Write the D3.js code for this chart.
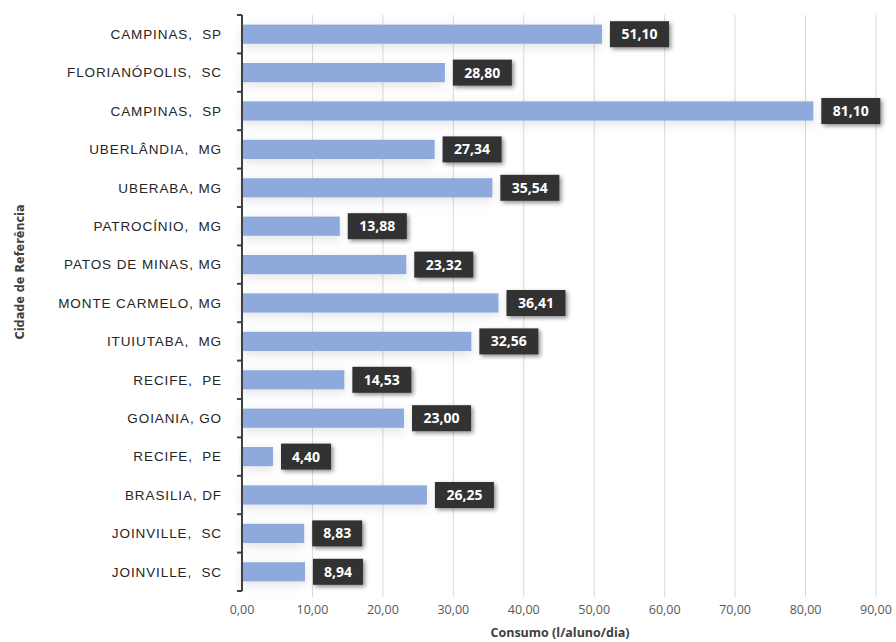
<!DOCTYPE html>
<html lang="en">
<head>
    <meta charset="UTF-8">
    <title>Consumo por Cidade</title>
    <script src="https://d3js.org/d3.v7.min.js"></script>
    <style>
        body { margin: 0; background: #fff; }
        svg { display: block; }
        .cat { font-family: "Liberation Sans", Arial, sans-serif; font-size: 13.5px; letter-spacing: 0.9px; fill: #262626; white-space: pre; }
        .tick-x { font-family: "Open Sans", sans-serif; font-size: 12.5px; fill: #595959; }
        .lbl { font-family: "Open Sans", sans-serif; font-size: 14px; font-weight: bold; fill: #fff; }
    </style>
</head>
<body>
<svg id="chart" width="896" height="642"></svg>
<script>
    // data (top to bottom)
    const cities = [
        "CAMPINAS,  SP", "FLORIANÓPOLIS,  SC", "CAMPINAS,  SP", "UBERLÂNDIA,  MG",
        "UBERABA, MG", "PATROCÍNIO,  MG", "PATOS DE MINAS, MG", "MONTE CARMELO, MG",
        "ITUIUTABA,  MG", "RECIFE,  PE", "GOIANIA, GO", "RECIFE,  PE",
        "BRASILIA, DF", "JOINVILLE,  SC", "JOINVILLE,  SC"
    ];
    const consumo = [51.10, 28.80, 81.10, 27.34, 35.54, 13.88, 23.32, 36.41, 32.56, 14.53, 23.00, 4.40, 26.25, 8.83, 8.94];
    const xTicks = [0, 10, 20, 30, 40, 50, 60, 70, 80, 90];

    const data = cities.map((c, i) => ({ id: i, city: c, value: consumo[i] }));
    const fmt = v => v.toFixed(2).replace(".", ",");
    const boxW = v => fmt(v).length * 9 + 14;

    const svg = d3.select("#chart");
    const plotL = 242, plotR = 876, plotT = 15, plotB = 591;

    const x = d3.scaleLinear().domain([0, 90]).range([plotL, plotR]);
    const y = d3.scaleBand().domain(data.map(d => d.id)).range([plotT, plotB]).paddingInner(0.5).paddingOuter(0.25);

    const defs = svg.append("defs");
    const sh = defs.append("filter").attr("id", "shadow").attr("x", "-20%").attr("y", "-40%").attr("width", "150%").attr("height", "200%");
    sh.append("feDropShadow").attr("dx", 2).attr("dy", 2).attr("stdDeviation", 2).attr("flood-color", "#000").attr("flood-opacity", 0.45);
    const bs = defs.append("filter").attr("id", "barshadow").attr("x", "-10%").attr("y", "-100%").attr("width", "130%").attr("height", "300%");
    bs.append("feDropShadow").attr("dx", 0).attr("dy", 3).attr("stdDeviation", 6).attr("flood-color", "#000").attr("flood-opacity", 0.12);

    // gridlines
    svg.append("g")
        .selectAll("line")
        .data(xTicks.slice(1))
        .join("line")
        .attr("x1", d => x(d)).attr("x2", d => x(d))
        .attr("y1", plotT).attr("y2", plotB + 6)
        .attr("stroke", "#d9d9d9").attr("stroke-width", 1);

    // bars
    svg.append("g")
        .selectAll("rect")
        .data(data)
        .join("rect")
        .attr("x", plotL)
        .attr("y", d => y(d.id))
        .attr("width", d => x(d.value) - plotL)
        .attr("height", y.bandwidth())
        .attr("fill", "#8eaadc")
        .attr("filter", "url(#barshadow)");

    // left axis with ticks between categories
    const step = y.step();
    const axisG = svg.append("g").attr("stroke", "#404040").attr("stroke-width", 2);
    axisG.append("line").attr("x1", plotL).attr("x2", plotL).attr("y1", plotT).attr("y2", plotB);
    axisG.selectAll("line.t")
        .data(d3.range(cities.length + 1))
        .join("line")
        .attr("class", "t")
        .attr("x1", plotL - 5).attr("x2", plotL)
        .attr("y1", i => plotT + i * step).attr("y2", i => plotT + i * step);

    // category labels
    svg.append("g")
        .selectAll("text")
        .data(data)
        .join("text")
        .attr("class", "cat")
        .attr("x", 222)
        .attr("y", d => y(d.id) + y.bandwidth() / 2)
        .attr("dy", "0.35em")
        .attr("text-anchor", "end")
        .text(d => d.city);

    // x tick labels
    svg.append("g")
        .selectAll("text")
        .data(xTicks)
        .join("text")
        .attr("class", "tick-x")
        .attr("x", d => x(d))
        .attr("y", 614)
        .attr("text-anchor", "middle")
        .text(d => fmt(d));

    // value labels
    const lab = svg.append("g")
        .selectAll("g")
        .data(data)
        .join("g")
        .attr("transform", d => `translate(${x(d.value) + 8},${y(d.id) + y.bandwidth() / 2})`);
    lab.append("rect")
        .attr("x", 0).attr("y", -13)
        .attr("width", d => boxW(d.value))
        .attr("height", 26)
        .attr("fill", "#333")
        .attr("filter", "url(#shadow)");
    lab.append("text")
        .attr("class", "lbl")
        .attr("x", d => boxW(d.value) / 2)
        .attr("dy", "0.36em")
        .attr("text-anchor", "middle")
        .text(d => fmt(d.value));

    // axis titles
    svg.append("text")
        .attr("x", 560).attr("y", 637)
        .attr("text-anchor", "middle")
        .attr("font-family", "Open Sans, sans-serif")
        .attr("font-size", 12.5).attr("font-weight", "bold").attr("fill", "#404040")
        .text("Consumo (l/aluno/dia)");

    svg.append("text")
        .attr("transform", "translate(24,272) rotate(-90)")
        .attr("text-anchor", "middle")
        .attr("font-family", "DejaVu Sans Condensed, DejaVu Sans, sans-serif")
        .attr("font-stretch", "condensed")
        .attr("font-size", 12.5).attr("font-weight", "bold").attr("fill", "#404040")
        .text("Cidade de Referência");
</script>
</body>
</html>
